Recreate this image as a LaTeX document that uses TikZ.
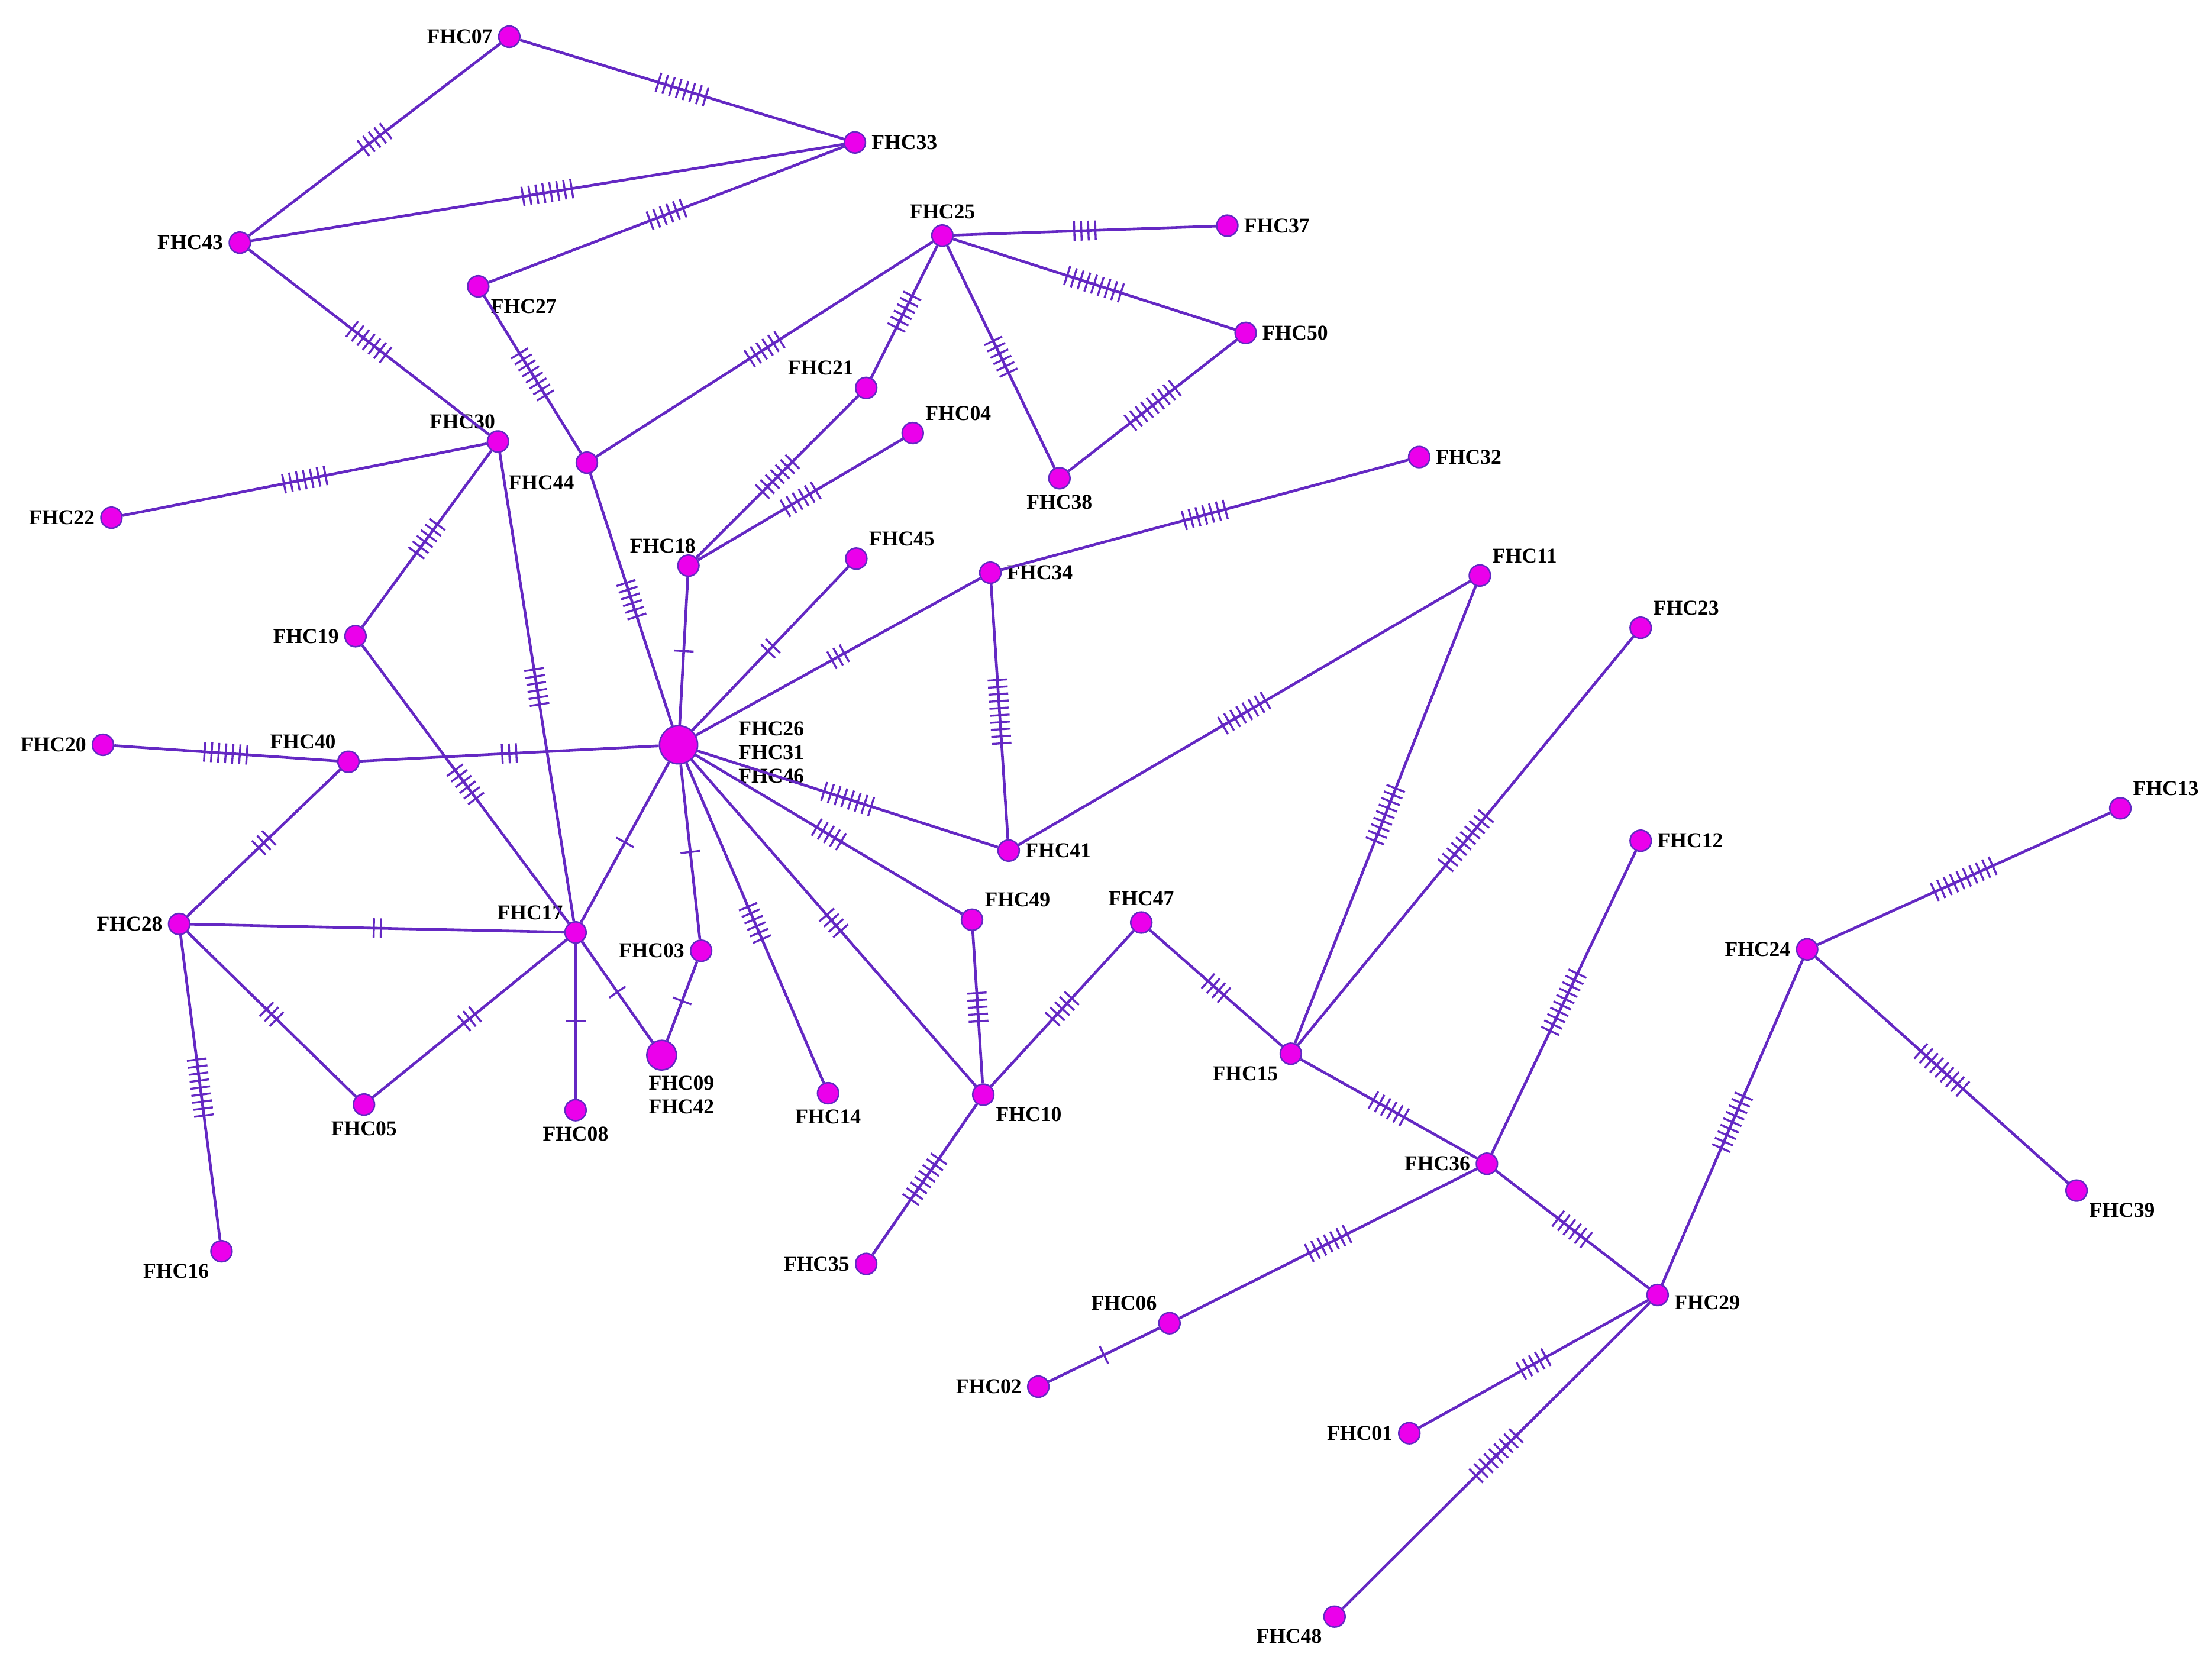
\documentclass[tikz,border=0pt]{standalone}
\usepackage{fontspec}
\setmainfont{Liberation Serif}
\usetikzlibrary{decorations.markings}
\definecolor{edc}{RGB}{100,40,195}
\definecolor{ndc}{RGB}{235,0,235}
\tikzset{
 nd/.style={circle,draw=edc,fill=ndc,line width=0.6pt,minimum size=0.3cm,inner sep=0pt},
 ndbig/.style={nd,minimum size=0.54cm},
 ndmid/.style={nd,minimum size=0.42cm},
 edg/.style={draw=edc,line width=1.1pt},
 every label/.style={font=\fontsize{8.5}{9.5}\selectfont\bfseries,inner sep=1pt},
 label distance=1pt
}
\newcommand\ed[3]{\draw[edg,postaction={decorate,decoration={markings,mark=at position 0.5 with {\foreach \k in {1,...,#3}{\draw[draw=edc,line width=0.8pt] ({(\k-(#3+1)/2)*0.1cm},-0.14cm) -- ++(0,0.28cm);}}}}] (#1) -- (#2);}
\begin{document}
\begin{tikzpicture}[x=0.02cm,y=-0.02cm]
\useasboundingbox (0,0) rectangle (1568,1183.5);
\node[nd,label=left:FHC07] (n07) at (361,26) {};
\node[nd,label=right:FHC33] (n33) at (606,101) {};
\node[nd,label=left:FHC43] (n43) at (170,172) {};
\node[nd,label=below right:FHC27] (n27) at (339,203) {};
\node[nd,label=above:FHC25] (n25) at (668,167) {};
\node[nd,label=right:FHC37] (n37) at (870,160) {};
\node[nd,label=right:FHC50] (n50) at (883,236) {};
\node[nd,label=above left:FHC21] (n21) at (614,275) {};
\node[nd,label=above right:FHC04] (n04) at (647,307) {};
\node[nd,label=below:FHC38] (n38) at (751,339) {};
\node[nd,label={[xshift=4pt]above left:FHC30}] (n30) at (353,313) {};
\node[nd,label=below left:FHC44] (n44) at (416,328) {};
\node[nd,label=left:FHC22] (n22) at (79,367) {};
\node[nd,label=right:FHC32] (n32) at (1006,324) {};
\node[nd,label={[xshift=8pt]above left:FHC18}] (n18) at (488,401) {};
\node[nd,label=above right:FHC45] (n45) at (607,396) {};
\node[nd,label=right:FHC34] (n34) at (702,406) {};
\node[nd,label=above right:FHC11] (n11) at (1049,408) {};
\node[nd,label=above right:FHC23] (n23) at (1163,445) {};
\node[nd,label=left:FHC19] (n19) at (252,451) {};
\node[nd,label=left:FHC20] (n20) at (73,528) {};
\node[nd,label=above left:FHC40] (n40) at (247,540) {};
\node[ndbig,label={[align=left,xshift=14pt,yshift=-3pt]right:FHC26\\FHC31\\FHC46}] (c) at (481,528) {};
\node[nd,label=right:FHC41] (n41) at (715,603) {};
\node[nd,label=above right:FHC13] (n13) at (1503,573) {};
\node[nd,label=right:FHC12] (n12) at (1163,596) {};
\node[nd,label=left:FHC28] (n28) at (127,655) {};
\node[nd,label=above left:FHC17] (n17) at (408,661) {};
\node[nd,label=left:FHC03] (n03) at (497,674) {};
\node[nd,label=above right:FHC49] (n49) at (689,652) {};
\node[nd,label=above:FHC47] (n47) at (809,654) {};
\node[nd,label=left:FHC24] (n24) at (1281,673) {};
\node[ndmid,label={[align=center,xshift=8pt]below:FHC09\\FHC42}] (n09) at (469,748) {};
\node[nd,label=below:FHC05] (n05) at (258,783) {};
\node[nd,label=below:FHC08] (n08) at (408,787) {};
\node[nd,label=below:FHC14] (n14) at (587,775) {};
\node[nd,label=below right:FHC10] (n10) at (697,776) {};
\node[nd,label=below left:FHC15] (n15) at (915,747) {};
\node[nd,label=left:FHC36] (n36) at (1054,825) {};
\node[nd,label=below right:FHC39] (n39) at (1472,844) {};
\node[nd,label=below left:FHC16] (n16) at (157,887) {};
\node[nd,label=left:FHC35] (n35) at (614,896) {};
\node[nd,label={[yshift=-3pt]right:FHC29}] (n29) at (1175,918) {};
\node[nd,label=above left:FHC06] (n06) at (829,938) {};
\node[nd,label=left:FHC02] (n02) at (736,983) {};
\node[nd,label=left:FHC01] (n01) at (999,1016) {};
\node[nd,label=below left:FHC48] (n48) at (946,1146) {};
\ed{n07}{n33}{8}\ed{n07}{n43}{5}\ed{n43}{n33}{8}\ed{n27}{n33}{6}
\ed{n43}{n30}{7}\ed{n27}{n44}{8}\ed{n44}{n25}{6}\ed{n25}{n21}{6}
\ed{n25}{n37}{4}\ed{n25}{n50}{9}\ed{n25}{n38}{6}\ed{n50}{n38}{9}
\ed{n21}{n18}{7}\ed{n18}{n04}{6}\ed{n30}{n22}{7}\ed{n30}{n19}{6}
\ed{n30}{n17}{6}\ed{n44}{c}{6}\ed{n18}{c}{1}\ed{n45}{c}{2}
\ed{n34}{c}{3}\ed{n34}{n32}{7}\ed{n34}{n41}{10}\ed{c}{n41}{8}
\ed{n41}{n11}{8}\ed{n11}{n15}{9}\ed{n23}{n15}{10}\ed{c}{n40}{3}
\ed{n20}{n40}{7}\ed{n19}{n17}{6}\ed{n40}{n28}{3}\ed{n28}{n17}{2}
\ed{n28}{n05}{3}\ed{n05}{n17}{3}\ed{n28}{n16}{9}\ed{n17}{c}{1}
\ed{n17}{n08}{1}\ed{n17}{n09}{1}\ed{c}{n03}{1}\ed{n03}{n09}{1}
\ed{c}{n14}{6}\ed{c}{n10}{4}\ed{c}{n49}{5}\ed{n49}{n10}{5}
\ed{n10}{n47}{5}\ed{n10}{n35}{8}\ed{n47}{n15}{4}\ed{n15}{n36}{6}
\ed{n36}{n12}{10}\ed{n36}{n06}{7}\ed{n06}{n02}{1}\ed{n36}{n29}{6}
\ed{n29}{n01}{5}\ed{n29}{n48}{9}\ed{n29}{n24}{9}\ed{n24}{n13}{10}
\ed{n24}{n39}{9}
\end{tikzpicture}
\end{document}
